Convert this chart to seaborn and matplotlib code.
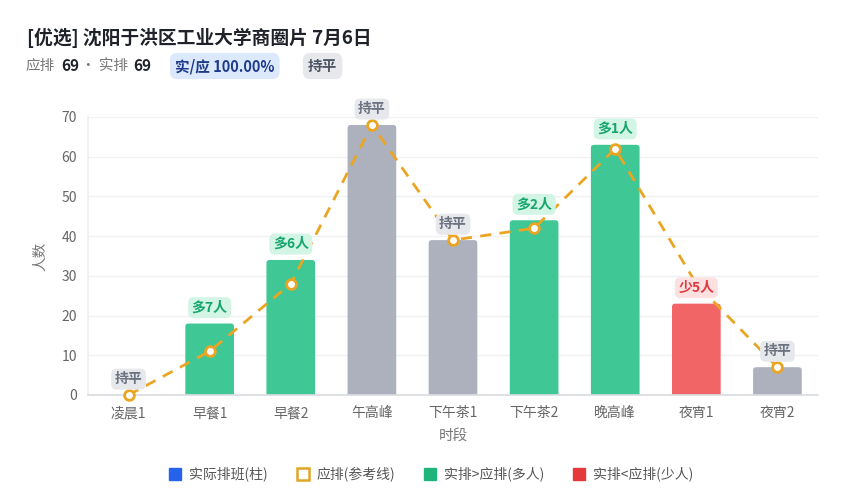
import matplotlib
matplotlib.use('Agg')

import numpy as np
import pandas as pd
import matplotlib.pyplot as plt
from matplotlib.patches import FancyBboxPatch
from matplotlib.lines import Line2D
import seaborn as sns

# data
periods = ['凌晨1', '早餐1', '早餐2', '午高峰', '下午茶1', '下午茶2', '晚高峰', '夜宵1', '夜宵2']
actual = [0, 18, 34, 68, 39, 44, 63, 23, 7]
expected = [0, 11, 28, 68, 39, 42, 62, 28, 7]
y_ticks = [0, 10, 20, 30, 40, 50, 60, 70]

GREEN = '#3fc795'
GREY = '#acb1bd'
RED = '#f16567'
ORANGE = '#eaa522'

sns.set_theme(style='white')
plt.rcParams['font.family'] = ['Noto Sans CJK SC', 'DejaVu Sans']

df = pd.DataFrame({'period': periods, 'actual': actual, 'expected': expected})
df['diff'] = df['actual'] - df['expected']


def bar_color(d):
    if d > 0:
        return GREEN
    if d < 0:
        return RED
    return GREY


def tag(d):
    if d > 0:
        return '多%d人' % d, '#17a56f', '#d3f5e5'
    if d < 0:
        return '少%d人' % -d, '#e0393e', '#fde1e1'
    return '持平', '#6b7280', '#e6e8ec'


colors = [bar_color(d) for d in df['diff']]

fig = plt.figure(figsize=(8.5, 5), dpi=100)
ax = fig.add_axes([88 / 850, 1 - 395 / 500, (818 - 88) / 850, (395 - 117) / 500])

sns.barplot(data=df, x='period', y='actual', hue='period', palette=colors,
            width=0.6, legend=False, ax=ax, saturation=1)

# swap plain rectangles for rounded-top bars
for p in list(ax.patches):
    x, w, h = p.get_x(), p.get_width(), p.get_height()
    fc = p.get_facecolor()
    p.remove()
    if h <= 0:
        continue
    rb = FancyBboxPatch((x, -2), w, h + 2,
                        boxstyle='round,pad=0,rounding_size=0.04',
                        mutation_aspect=20, facecolor=fc, edgecolor='none',
                        zorder=2, clip_on=True)
    ax.add_patch(rb)

xs = np.arange(len(periods))
ax.plot(xs, df['expected'], color=ORANGE, lw=2, dashes=(4, 3), zorder=3,
        marker='o', markersize=7, markerfacecolor='white',
        markeredgecolor=ORANGE, markeredgewidth=2, clip_on=False)

for i, (a, d) in enumerate(zip(df['actual'], df['diff'])):
    txt, tc, bc = tag(d)
    ax.text(i, a + 4, txt, ha='center', va='center', fontsize=10,
            fontweight='bold', color=tc, zorder=4,
            bbox=dict(boxstyle='round,pad=0.25,rounding_size=0.4', fc=bc, ec='none'))

ax.set_ylim(0, 70)
ax.set_xlim(-0.5, len(periods) - 0.5)
ax.set_yticks(y_ticks)
ax.yaxis.grid(True, color='#f0f1f3', lw=1)
ax.set_axisbelow(True)
for s in ['top', 'right']:
    ax.spines[s].set_visible(False)
ax.spines['left'].set_color('#eceef1')
ax.spines['bottom'].set_color('#d9dce1')
ax.tick_params(axis='both', length=0, labelsize=10, colors='#666666', pad=8)
ax.set_xlabel('时段', fontsize=10.5, color='#777777', labelpad=6)
ax.set_ylabel('人数', fontsize=10.5, color='#777777', labelpad=10)

# title and summary line
fig.text(27 / 850, 1 - 38 / 500, '[优选] 沈阳于洪区工业大学商圈片 7月6日',
         fontsize=13.5, fontweight='bold', color='#1f2329', va='center')
sy = 1 - 66 / 500
fig.text(25 / 850, sy, '应排', fontsize=10.5, color='#777777', va='center')
fig.text(61 / 850, sy, '69', fontsize=11, fontweight='bold', color='#1f2329', va='center')
fig.text(81 / 850, sy, '· 实排', fontsize=10.5, color='#777777', va='center')
fig.text(133 / 850, sy, '69', fontsize=11, fontweight='bold', color='#1f2329', va='center')
fig.text(175 / 850, sy, '实/应 100.00%', fontsize=10.5, fontweight='bold', color='#1e3a8a',
         va='center', bbox=dict(boxstyle='round,pad=0.35,rounding_size=0.5', fc='#dce8fb', ec='none'))
fig.text(308 / 850, sy, '持平', fontsize=10.5, fontweight='bold', color='#4b5563',
         va='center', bbox=dict(boxstyle='round,pad=0.35,rounding_size=0.5', fc='#e6e8ec', ec='none'))

handles = [
    Line2D([], [], ls='none', marker='s', markersize=9, markerfacecolor='#2563eb', markeredgecolor='#2563eb'),
    Line2D([], [], ls='none', marker='s', markersize=8, markerfacecolor='white', markeredgecolor='#e0a526', markeredgewidth=1.8),
    Line2D([], [], ls='none', marker='s', markersize=9, markerfacecolor='#1fb47c', markeredgecolor='#1fb47c'),
    Line2D([], [], ls='none', marker='s', markersize=9, markerfacecolor='#e5383b', markeredgecolor='#e5383b'),
]
labels = ['实际排班(柱)', '应排(参考线)', '实排>应排(多人)', '实排<应排(少人)']
fig.legend(handles, labels, loc='center', bbox_to_anchor=(430 / 850, 1 - 474 / 500),
           ncol=4, frameon=False, fontsize=10, handletextpad=0.4, columnspacing=1.9,
           handlelength=1.2, labelcolor='#555555')

fig.savefig('out.png', dpi=100)
